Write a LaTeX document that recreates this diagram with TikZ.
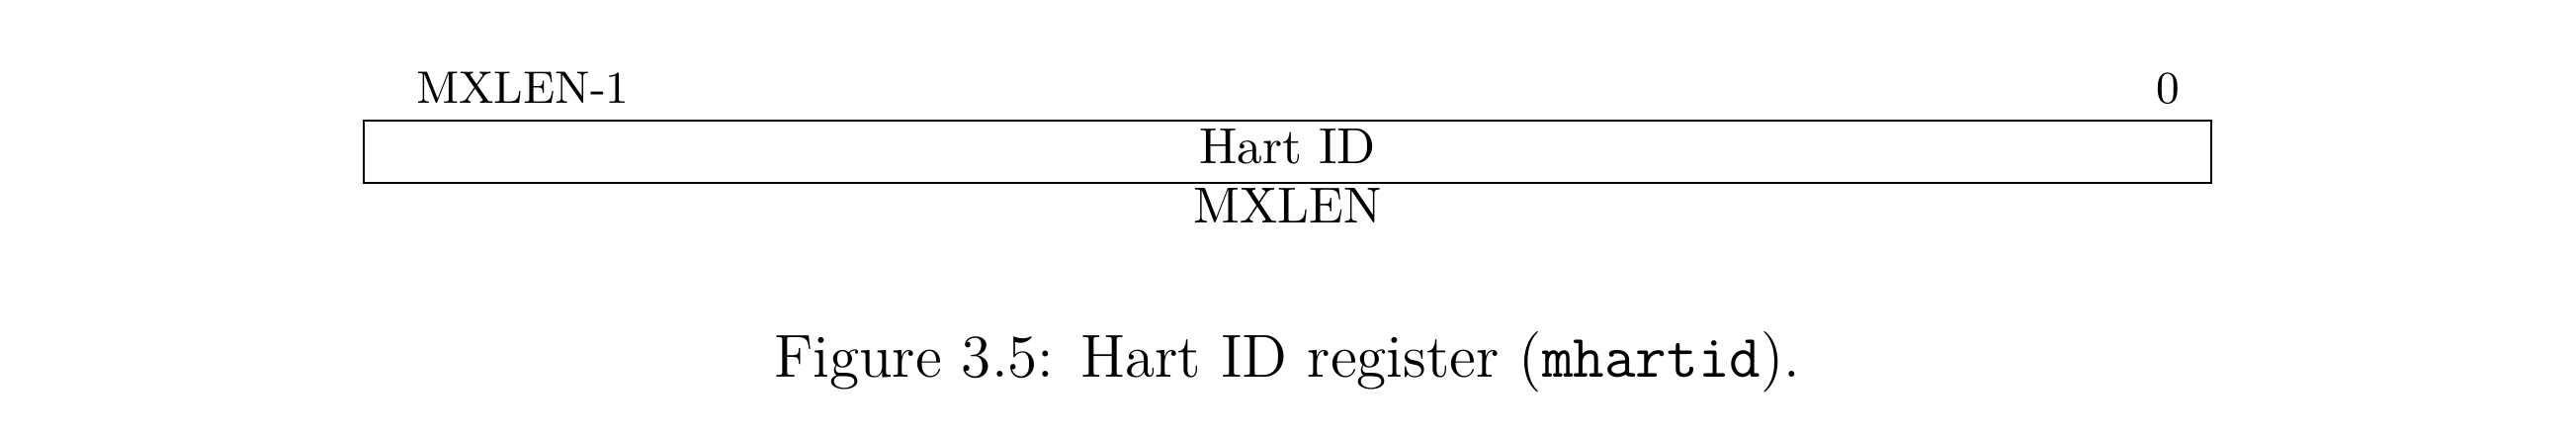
\documentclass[tikz,border=0pt]{standalone}
\usetikzlibrary{positioning}
\begin{document}
\begin{tikzpicture}[x=0.1955pt,y=-0.1955pt,
  bitlbl/.style={anchor=base,inner sep=0pt,font=\fontsize{9}{11}\selectfont},
  lbl/.style={anchor=base,inner sep=0pt,font=\fontsize{10}{12}\selectfont},
  regbox/.style={draw,line width=0.45pt,inner sep=0pt,minimum width=1869*0.1955pt,minimum height=63*0.1955pt},
  captext/.style={anchor=base,inner sep=0pt,font=\fontsize{12}{14.5}\selectfont}]
\useasboundingbox (0,0) rectangle (2606,440);
\node[regbox] (reg) at (1302.5,153.5) {};
\node[bitlbl,anchor=base west] (hi) at (420,104) {MXLEN-1};
\node[bitlbl] (lo) at (2193,104) {0};
\node[lbl] (name) at (1302.5,165) {Hart ID};
\node[lbl] (width) at (1302.5,225) {MXLEN};
\node[captext] (caption) at (1302.5,381) {Figure 3.5: Hart ID register (\texttt{mhartid}).};
\end{tikzpicture}
\end{document}
